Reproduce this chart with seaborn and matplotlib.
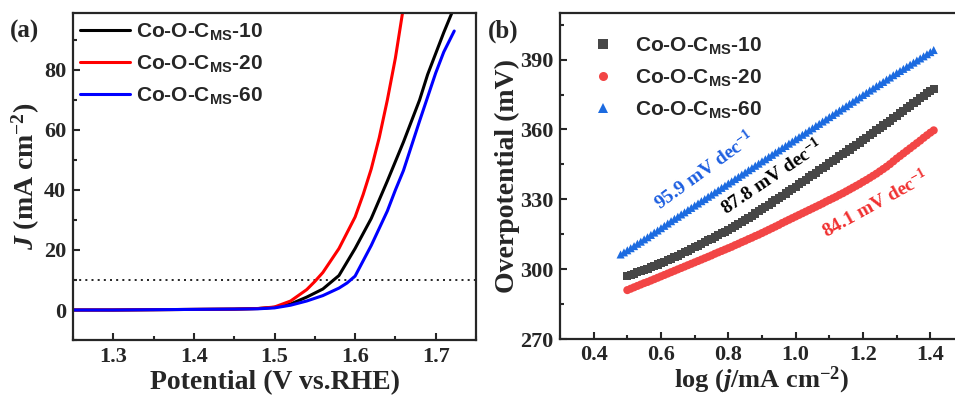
import numpy as np
import pandas as pd
import matplotlib
matplotlib.use("Agg")
import matplotlib.pyplot as plt
from matplotlib.lines import Line2D
from matplotlib.ticker import MultipleLocator
import seaborn as sns

sns.set_style("ticks")
plt.rcParams["font.family"] = ["Liberation Serif", "DejaVu Serif"]
plt.rcParams["font.weight"] = "bold"
plt.rcParams["mathtext.fontset"] = "custom"
plt.rcParams["mathtext.rm"] = "Liberation Serif:bold"
plt.rcParams["mathtext.bf"] = "Liberation Serif:bold"
plt.rcParams["mathtext.it"] = "Liberation Serif:italic:bold"
plt.rcParams["mathtext.sf"] = "Liberation Sans:bold"

# ---------------- data: panel (a) LSV ----------------
samples = ["Co-O-C$_{\\mathsf{MS}}$-10", "Co-O-C$_{\\mathsf{MS}}$-20", "Co-O-C$_{\\mathsf{MS}}$-60"]

pot_10 = [1.25, 1.30, 1.35, 1.40, 1.45, 1.48, 1.50, 1.52, 1.54, 1.56, 1.58, 1.60,
          1.62, 1.64, 1.66, 1.68, 1.69, 1.70, 1.71, 1.72, 1.725]
j_10 = [0.0, 0.0, 0.1, 0.2, 0.3, 0.5, 0.9, 2.0, 4.3, 7.0, 11.5, 20.5,
        30.5, 43.0, 56.0, 70.0, 78.5, 85.5, 92.5, 99.0, 102.0]

pot_20 = [1.25, 1.30, 1.35, 1.40, 1.45, 1.48, 1.50, 1.52, 1.54, 1.55, 1.56, 1.58,
          1.60, 1.61, 1.62, 1.63, 1.64, 1.65, 1.66]
j_20 = [0.0, 0.0, 0.1, 0.2, 0.3, 0.5, 1.0, 3.0, 6.8, 9.5, 12.5, 20.5,
        31.0, 38.5, 47.0, 57.5, 70.0, 84.0, 101.0]

pot_60 = [1.25, 1.30, 1.35, 1.40, 1.45, 1.48, 1.50, 1.52, 1.54, 1.56, 1.58, 1.59,
          1.60, 1.62, 1.64, 1.65, 1.66, 1.68, 1.70, 1.71, 1.723]
j_60 = [0.0, 0.0, 0.1, 0.2, 0.3, 0.4, 0.7, 1.6, 3.0, 4.8, 7.3, 9.0,
        11.3, 21.5, 33.0, 40.0, 46.5, 63.0, 79.0, 86.0, 93.0]

# ---------------- data: panel (b) Tafel ----------------
logj_10 = [0.50, 0.51, 0.52, 0.53, 0.54, 0.55, 0.56, 0.57, 0.58, 0.59,
           0.60, 0.61, 0.62, 0.63, 0.64, 0.65, 0.66, 0.67, 0.68, 0.69,
           0.70, 0.71, 0.72, 0.73, 0.74, 0.75, 0.76, 0.77, 0.78, 0.79,
           0.80, 0.81, 0.82, 0.83, 0.84, 0.85, 0.86, 0.87, 0.88, 0.89,
           0.90, 0.91, 0.92, 0.93, 0.94, 0.95, 0.96, 0.97, 0.98, 0.99,
           1.00, 1.01, 1.02, 1.03, 1.04, 1.05, 1.06, 1.07, 1.08, 1.09,
           1.10, 1.11, 1.12, 1.13, 1.14, 1.15, 1.16, 1.17, 1.18, 1.19,
           1.20, 1.21, 1.22, 1.23, 1.24, 1.25, 1.26, 1.27, 1.28, 1.29,
           1.30, 1.31, 1.32, 1.33, 1.34, 1.35, 1.36, 1.37, 1.38, 1.39,
           1.40, 1.41]
eta_10 = [297.0, 297.5, 298.0, 298.6, 299.1, 299.7, 300.2, 300.8, 301.4, 302.0,
          302.6, 303.2, 303.9, 304.5, 305.2, 305.8, 306.5, 307.2, 307.9, 308.6,
          309.4, 310.1, 310.9, 311.6, 312.4, 313.1, 313.9, 314.6, 315.4, 316.1,
          316.9, 317.7, 318.6, 319.5, 320.3, 321.2, 322.1, 323.0, 323.9, 324.9,
          325.8, 326.7, 327.7, 328.6, 329.6, 330.6, 331.5, 332.5, 333.4, 334.4,
          335.4, 336.4, 337.4, 338.4, 339.4, 340.4, 341.4, 342.4, 343.4, 344.4,
          345.4, 346.4, 347.4, 348.4, 349.4, 350.4, 351.4, 352.4, 353.4, 354.4,
          355.4, 356.4, 357.5, 358.5, 359.6, 360.6, 361.7, 362.7, 363.8, 364.8,
          365.9, 367.0, 368.0, 369.1, 370.1, 371.2, 372.3, 373.4, 374.4, 375.5,
          376.6, 377.4]

logj_20 = [0.50, 0.51, 0.52, 0.53, 0.54, 0.55, 0.56, 0.57, 0.58, 0.59,
           0.60, 0.61, 0.62, 0.63, 0.64, 0.65, 0.66, 0.67, 0.68, 0.69,
           0.70, 0.71, 0.72, 0.73, 0.74, 0.75, 0.76, 0.77, 0.78, 0.79,
           0.80, 0.81, 0.82, 0.83, 0.84, 0.85, 0.86, 0.87, 0.88, 0.89,
           0.90, 0.91, 0.92, 0.93, 0.94, 0.95, 0.96, 0.97, 0.98, 0.99,
           1.00, 1.01, 1.02, 1.03, 1.04, 1.05, 1.06, 1.07, 1.08, 1.09,
           1.10, 1.11, 1.12, 1.13, 1.14, 1.15, 1.16, 1.17, 1.18, 1.19,
           1.20, 1.21, 1.22, 1.23, 1.24, 1.25, 1.26, 1.27, 1.28, 1.29,
           1.30, 1.31, 1.32, 1.33, 1.34, 1.35, 1.36, 1.37, 1.38, 1.39,
           1.40, 1.41]
eta_20 = [291.0, 291.6, 292.2, 292.8, 293.4, 294.0, 294.5, 295.1, 295.7, 296.3,
          296.9, 297.5, 298.1, 298.7, 299.3, 299.9, 300.5, 301.1, 301.7, 302.3,
          302.9, 303.5, 304.1, 304.7, 305.3, 305.9, 306.6, 307.2, 307.8, 308.4,
          309.0, 309.6, 310.3, 310.9, 311.6, 312.2, 312.9, 313.5, 314.2, 314.8,
          315.5, 316.2, 316.9, 317.6, 318.3, 319.0, 319.8, 320.5, 321.2, 321.9,
          322.6, 323.3, 324.0, 324.7, 325.4, 326.1, 326.8, 327.5, 328.2, 329.0,
          329.7, 330.4, 331.1, 331.9, 332.6, 333.4, 334.2, 335.0, 335.8, 336.6,
          337.5, 338.3, 339.2, 340.1, 341.0, 342.0, 343.0, 344.0, 345.1, 346.3,
          347.5, 348.6, 349.7, 350.8, 351.9, 353.0, 354.1, 355.2, 356.4, 357.5,
          358.6, 359.6]

logj_60 = [0.48, 0.49,
           0.50, 0.51, 0.52, 0.53, 0.54, 0.55, 0.56, 0.57, 0.58, 0.59,
           0.60, 0.61, 0.62, 0.63, 0.64, 0.65, 0.66, 0.67, 0.68, 0.69,
           0.70, 0.71, 0.72, 0.73, 0.74, 0.75, 0.76, 0.77, 0.78, 0.79,
           0.80, 0.81, 0.82, 0.83, 0.84, 0.85, 0.86, 0.87, 0.88, 0.89,
           0.90, 0.91, 0.92, 0.93, 0.94, 0.95, 0.96, 0.97, 0.98, 0.99,
           1.00, 1.01, 1.02, 1.03, 1.04, 1.05, 1.06, 1.07, 1.08, 1.09,
           1.10, 1.11, 1.12, 1.13, 1.14, 1.15, 1.16, 1.17, 1.18, 1.19,
           1.20, 1.21, 1.22, 1.23, 1.24, 1.25, 1.26, 1.27, 1.28, 1.29,
           1.30, 1.31, 1.32, 1.33, 1.34, 1.35, 1.36, 1.37, 1.38, 1.39,
           1.40, 1.41]
eta_60 = [306.3, 307.2,
          308.1, 309.0, 309.9, 310.9, 311.8, 312.8, 313.7, 314.7, 315.7, 316.6,
          317.6, 318.6, 319.6, 320.6, 321.6, 322.5, 323.5, 324.4, 325.4, 326.3,
          327.3, 328.2, 329.2, 330.1, 331.1, 332.0, 333.0, 333.9, 334.9, 335.8,
          336.8, 337.7, 338.7, 339.6, 340.6, 341.5, 342.5, 343.4, 344.4, 345.3,
          346.3, 347.2, 348.2, 349.1, 350.1, 351.0, 352.0, 352.9, 353.9, 354.8,
          355.8, 356.7, 357.7, 358.6, 359.6, 360.5, 361.5, 362.4, 363.4, 364.3,
          365.3, 366.2, 367.2, 368.1, 369.1, 370.0, 371.0, 371.9, 372.9, 373.8,
          374.8, 375.7, 376.7, 377.6, 378.6, 379.5, 380.4, 381.4, 382.3, 383.3,
          384.2, 385.1, 386.0, 386.9, 387.8, 388.7, 389.6, 390.5, 391.4, 392.3,
          393.2, 394.1]

tafel_labels = ["95.9 mV dec$^{-1}$", "87.8 mV dec$^{-1}$", "84.1 mV dec$^{-1}$"]

lsv_colors = ["#000000", "#ff0000", "#0000ff"]
tafel_colors = ["#474747", "#f24545", "#1c6be0"]
tafel_markers = ["s", "o", "^"]

lsv = pd.concat([
    pd.DataFrame({"E": pot_10, "J": j_10, "sample": samples[0]}),
    pd.DataFrame({"E": pot_20, "J": j_20, "sample": samples[1]}),
    pd.DataFrame({"E": pot_60, "J": j_60, "sample": samples[2]}),
], ignore_index=True)

tafel = pd.concat([
    pd.DataFrame({"x": logj_10, "y": eta_10, "sample": samples[0]}),
    pd.DataFrame({"x": logj_20, "y": eta_20, "sample": samples[1]}),
    pd.DataFrame({"x": logj_60, "y": eta_60, "sample": samples[2]}),
], ignore_index=True)

W, H = 955, 397
fig = plt.figure(figsize=(W / 100, H / 100), dpi=100)
axa = fig.add_axes([73 / W, 1 - 340 / H, 403 / W, 327 / H])
axb = fig.add_axes([560 / W, 1 - 339 / H, 404 / W, 326 / H])

# ---------------- panel (a) ----------------
sns.lineplot(data=lsv, x="E", y="J", hue="sample", palette=dict(zip(samples, lsv_colors)),
             sort=False, estimator=None, linewidth=2.2, legend=False, ax=axa)
axa.axhline(10, color="black", linestyle=(0, (1.2, 2.5)), linewidth=1.2, zorder=0)
axa.set_xlim(1.25, 1.75)
axa.set_ylim(-10, 99)
axa.xaxis.set_minor_locator(MultipleLocator(0.05))
axa.yaxis.set_major_locator(MultipleLocator(20))
axa.yaxis.set_minor_locator(MultipleLocator(10))
axa.set_xticks([1.3, 1.4, 1.5, 1.6, 1.7])
axa.set_xticklabels(["1.3", "1.4", "1.5", "1.6", "1.7"])
axa.set_xlabel("Potential (V vs.RHE)", fontsize=20, fontweight="bold", labelpad=2)
axa.set_ylabel("$\\it{J}$ (mA cm$^{-2}$)", fontsize=20, fontweight="bold", labelpad=1)
axa.legend(handles=[Line2D([], [], color=c, lw=2.2) for c in lsv_colors], labels=samples,
           loc="upper left", bbox_to_anchor=(80 / W, 1 - 21 / H), bbox_transform=fig.transFigure,
           frameon=False, borderpad=0, borderaxespad=0, handlelength=2.4, handletextpad=0.3,
           labelspacing=0.53, prop={"family": "Liberation Sans", "weight": "bold", "size": 15})

# ---------------- panel (b) ----------------
sns.scatterplot(data=tafel, x="x", y="y", hue="sample", style="sample",
                palette=dict(zip(samples, tafel_colors)),
                markers=dict(zip(samples, tafel_markers)), s=34, linewidth=0,
                legend=False, ax=axb)
axb.set_xlim(0.3, 1.5)
axb.set_ylim(270, 410)
axb.set_xticks([0.4, 0.6, 0.8, 1.0, 1.2, 1.4])
axb.xaxis.set_minor_locator(MultipleLocator(0.1))
axb.set_yticks([270, 300, 330, 360, 390])
axb.yaxis.set_minor_locator(MultipleLocator(15))
axb.set_xlabel("log ($\\it{j}$/mA cm$^{-2}$)", fontsize=19, fontweight="bold", labelpad=0)
axb.set_ylabel("Overpotential (mV)", fontsize=20, fontweight="bold", labelpad=0)
axb.legend(handles=[Line2D([], [], color=c, marker=m, ls="none", markersize=6.5, mew=0)
                    for c, m in zip(tafel_colors, tafel_markers)], labels=samples,
           loc="upper left", bbox_to_anchor=(593 / W, 1 - 35 / H), bbox_transform=fig.transFigure,
           frameon=False, borderpad=0, borderaxespad=0, handlelength=1.0, handletextpad=1.0,
           labelspacing=0.53, prop={"family": "Liberation Sans", "weight": "bold", "size": 15})

axb.text(0.73, 342.4, tafel_labels[0], color="#1c5ee0", fontsize=14, fontweight="bold",
         rotation=36, ha="center", va="center")
axb.text(0.93, 339.6, tafel_labels[1], color="black", fontsize=14, fontweight="bold",
         rotation=34, ha="center", va="center")
axb.text(1.235, 328.0, tafel_labels[2], color="#f03030", fontsize=14, fontweight="bold",
         rotation=29, ha="center", va="center")

for ax in (axa, axb):
    for sp in ax.spines.values():
        sp.set_linewidth(1.6)
    ax.tick_params(which="both", direction="in", width=1.5, labelsize=16, top=False, right=False)
    ax.tick_params(which="major", length=5, pad=5)
    ax.tick_params(which="minor", length=3)
    for lab in ax.get_xticklabels() + ax.get_yticklabels():
        lab.set_fontweight("bold")
axb.tick_params(axis="x", which="major", pad=4)

fig.text(10 / W, 1 - 31 / H, "(a)", fontsize=18, fontweight="bold", va="center", ha="left")
fig.text(488 / W, 1 - 31 / H, "(b)", fontsize=18, fontweight="bold", va="center", ha="left")

fig.savefig("out.png", dpi=100, facecolor="white")
